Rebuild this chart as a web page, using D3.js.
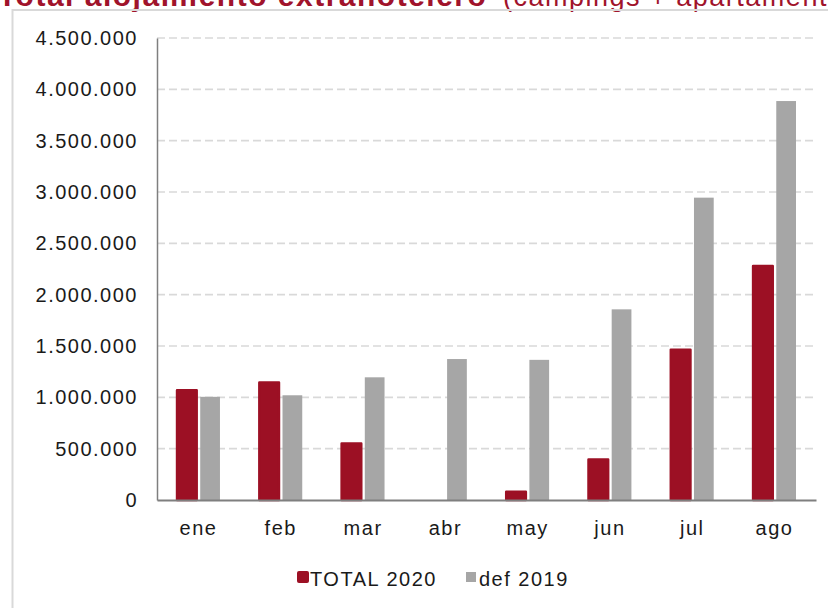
<!DOCTYPE html>
<html>
<head>
<meta charset="utf-8">
<script src="https://cdn.jsdelivr.net/npm/d3@7"></script>
<style>
	body { margin: 0; background: #fff; }
	svg { display: block; font-family: 'Liberation Sans', Arial, sans-serif; }
</style>
</head>
<body>
<div id="chart"></div>
<script>
// data
const months = ['ene', 'feb', 'mar', 'abr', 'may', 'jun', 'jul', 'ago'];
const total2020 = [1070000, 1145000, 550000, 0, 80000, 395000, 1465000, 2280000];
const def2019 = [1005000, 1020000, 1195000, 1373000, 1365000, 1857000, 2945000, 3886000];
const seriesNames = ['TOTAL 2020', 'def 2019'];
const yTicks = [0, 500000, 1000000, 1500000, 2000000, 2500000, 3000000, 3500000, 4000000, 4500000];

const colors = { 'TOTAL 2020': '#9c1024', 'def 2019': '#a6a6a6' };

// set the dimensions and margins of the graph
const W = 828,
	H = 608;
const margin = { top: 38, left: 157, right: 12, bottom: 108 };
const width = W - margin.left - margin.right,
	height = H - margin.top - margin.bottom;

const es = d3.formatLocale({ decimal: ',', thousands: '.', grouping: [3], currency: ['', ''] });
const fmt = es.format(',d');

const svg = d3
	.select('#chart')
	.append('svg')
	.attr('width', W)
	.attr('height', H);

// title, cut off at the top edge
const title = svg
	.append('text')
	.attr('x', -2)
	.attr('y', 6)
	.attr('fill', '#a0132b')
	.style('letter-spacing', '1.5px');
title.append('tspan').attr('font-weight', 'bold').attr('font-size', '30px').text('Total alojamiento extrahotelero');
title.append('tspan').attr('x', 503).attr('font-size', '27px').text('(campings + apartamentos)');

// chart frame
svg
	.append('rect')
	.attr('x', 12.5)
	.attr('y', 10)
	.attr('width', W)
	.attr('height', H)
	.attr('fill', 'none')
	.attr('stroke', '#d9d9d9')
	.attr('stroke-width', 2);

const g = svg.append('g').attr('transform', `translate(${margin.left},${margin.top})`);

const y = d3.scaleLinear().domain([0, 4500000]).range([height, 0]);
const x0 = d3.scaleBand().domain(months).range([0, width]).paddingInner(0.478).paddingOuter(0.243);
const x1 = d3.scaleBand().domain(seriesNames).range([0, x0.bandwidth()]).paddingInner(0.15);

// dashed gridlines
g.append('g')
	.selectAll('line')
	.data(yTicks.filter((d) => d > 0))
	.join('line')
	.attr('x1', 0)
	.attr('x2', width)
	.attr('y1', (d) => y(d))
	.attr('y2', (d) => y(d))
	.attr('stroke', '#d9d9d9')
	.attr('stroke-width', 1.6)
	.attr('stroke-dasharray', '8,4');

// bars
const rows = months.map((m, i) => ({ month: m, values: [total2020[i], def2019[i]] }));
g.append('g')
	.selectAll('g')
	.data(rows)
	.join('g')
	.attr('transform', (d) => `translate(${x0(d.month)},0)`)
	.selectAll('rect')
	.data((d) => seriesNames.map((s, j) => ({ key: s, value: d.values[j] })))
	.join('rect')
	.filter((d) => d.value > 0)
	.attr('x', (d) => x1(d.key))
	.attr('width', x1.bandwidth())
	.attr('y', (d) => y(d.value))
	.attr('height', (d) => y(0) - y(d.value))
	.attr('fill', (d) => colors[d.key])
	.attr('stroke', (d) => (d.key === 'TOTAL 2020' ? colors[d.key] : 'none'))
	.attr('stroke-width', 2.4)
	.attr('stroke-linejoin', 'round');

// y axis
const yAxis = g
	.append('g')
	.call(d3.axisLeft(y).tickValues(yTicks).tickFormat(fmt).tickSize(0).tickPadding(19));
yAxis.select('.domain').attr('stroke', '#7f7f7f').attr('stroke-width', 1.5);
yAxis
	.selectAll('text')
	.attr('font-family', null)
	.attr('font-size', '20px')
	.attr('fill', '#1a1a1a')
	.style('letter-spacing', '1.5px');

// x axis
const xAxis = g
	.append('g')
	.attr('transform', `translate(0,${height})`)
	.call(d3.axisBottom(x0).tickSize(0).tickPadding(21));
xAxis.select('.domain').attr('stroke', '#7f7f7f').attr('stroke-width', 2);
xAxis
	.selectAll('text')
	.attr('font-size', '20px')
	.attr('fill', '#1a1a1a')
	.style('letter-spacing', '1.5px');
xAxis.attr('font-family', null);
yAxis.attr('font-family', null);

// legend
const legendItems = [
	{ key: 'TOTAL 2020', sx: 297, size: 12, tx: 310 },
	{ key: 'def 2019', sx: 466, size: 10, tx: 479 },
];
const legend = svg.append('g');
legend
	.selectAll('rect')
	.data(legendItems)
	.join('rect')
	.attr('x', (d) => d.sx)
	.attr('y', (d) => 577 - d.size / 2)
	.attr('width', (d) => d.size)
	.attr('height', (d) => d.size)
	.attr('rx', (d) => (d.key === 'TOTAL 2020' ? 2 : 0))
	.attr('fill', (d) => colors[d.key]);
legend
	.selectAll('text')
	.data(legendItems)
	.join('text')
	.attr('x', (d) => d.tx)
	.attr('y', 586)
	.attr('font-size', '20px')
	.attr('fill', '#1a1a1a')
	.style('letter-spacing', '1.5px')
	.text((d) => d.key);
</script>
</body>
</html>
